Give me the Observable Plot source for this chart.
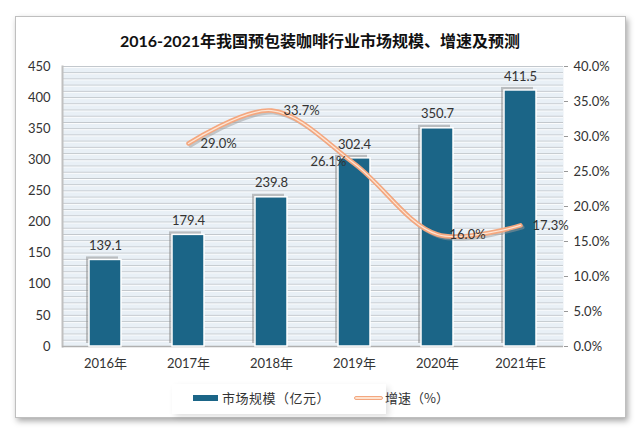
<!DOCTYPE html>
<html><head><meta charset="utf-8">
<script src="https://cdn.jsdelivr.net/npm/d3@7"></script>
<script src="https://cdn.jsdelivr.net/npm/@observablehq/plot@0.6"></script>
<style>
body{margin:0;background:#fff;}
#wrap{position:relative;width:640px;height:433px;overflow:hidden;font-family:Lato,"Noto Sans CJK SC",sans-serif;}
#card{position:absolute;left:15px;top:16px;width:609px;height:400px;background:#fff;border:1px solid #bfbfbf;box-shadow:2px 3px 6px rgba(0,0,0,0.35);}
#title{position:absolute;left:0;top:28px;width:640px;text-align:center;font-size:16px;font-weight:bold;color:#111;font-family:Lato,"Noto Sans CJK SC",sans-serif;}
#chart{position:absolute;left:0;top:0;}
#legend{position:absolute;left:172px;top:384px;width:214px;height:30px;background:#fff;box-shadow:3px 3px 6px rgba(0,0,0,0.12);}
.lg{position:absolute;font-size:13px;color:#333;font-family:"Noto Sans CJK SC",sans-serif;line-height:16px;white-space:nowrap;}
.sw1{position:absolute;left:193px;top:395px;width:25px;height:6px;background:#1b6587;}
.t1{left:222px;top:390px;letter-spacing:0.5px;}
.sw2{position:absolute;left:354px;top:396px;width:27px;height:2px;background:#fde3d0;border:1.5px solid #f4a77f;border-radius:3px;}
.t2{left:385px;top:390px;}
</style></head>
<body>
<div id="wrap">
  <div id="card"></div>
  <div id="chart"></div>
  <div id="title">2016-2021年我国预包装咖啡行业市场规模、增速及预测</div>
  <div id="legend"></div>
  <div class="sw1"></div><div class="lg t1">市场规模（亿元）</div><div class="sw2"></div><div class="lg t2">增速（%）</div>
</div>
<script>
const years = ["2016年","2017年","2018年","2019年","2020年","2021年E"];
const marketSize = [139.1,179.4,239.8,302.4,350.7,411.5];
const growthYears = ["2017年","2018年","2019年","2020年","2021年E"];
const growthRate = [29.0,33.7,26.1,16.0,17.3];
const leftTicks = [0,50,100,150,200,250,300,350,400,450];
const rightTicks = [0,5,10,15,20,25,30,35,40];

const K = 450/40; // percent -> left scale units
const bars = years.map((y,i)=>({year:y, v:marketSize[i]}));
const growth = growthYears.map((y,i)=>({year:y, g:growthRate[i], v:growthRate[i]*K}));
const font = 'Lato,"Noto Sans CJK SC",sans-serif';

const chart = Plot.plot({
  width:640, height:433,
  marginLeft:62, marginRight:77, marginTop:66, marginBottom:87,
  style:{fontFamily:font, fontSize:"12px", color:"#333", background:"transparent"},
  x:{domain:years, paddingInner:0.62, paddingOuter:0.31, label:null},
  y:{domain:[0,450], label:null},
  marks:[
    Plot.frame({fill:"#e9f0f6", stroke:null}),
    Plot.ruleY(d3.range(0,451,10), {stroke:"#c3c8cd", strokeWidth:1}),
    Plot.ruleY(d3.range(0,451,10), {stroke:"#ffffff", strokeWidth:0.8, dy:1}),
    Plot.frame({anchor:"left", stroke:"#c0c0c0", strokeWidth:2}),
    Plot.axisY({anchor:"left", ticks:leftTicks, tickSize:0, tickPadding:12, fontSize:13, fill:"#333"}),
    Plot.axisY({anchor:"right", ticks:rightTicks.map(t=>t*K), tickSize:4, tickPadding:6, tickFormat:d=>(d/K).toFixed(1)+"%", fontSize:13, fill:"#333", stroke:"#999"}),
    Plot.axisX({tickSize:0, tickPadding:12, fontSize:13, fill:"#333"}),
    Plot.ruleY([0], {stroke:"#b0b0b0", strokeWidth:1.5}),
    Plot.barY(bars, {x:"year", y:"v", fill:"#8a8a8a", fillOpacity:0.5, dx:-3, dy:-3}),
    Plot.barY(bars, {x:"year", y:"v", fill:"#1b6587", stroke:"#ffffff", strokeWidth:1.5}),
    Plot.text(bars, {x:"year", y:"v", text:d=>d.v.toFixed(1), dy:-14, fontSize:13, fill:"#333"}),
    Plot.line(growth, {x:"year", y:"v", curve:"catmull-rom", stroke:"#9a9a9a", strokeOpacity:0.5, strokeWidth:4, dx:2, dy:2}),
    Plot.line(growth, {x:"year", y:"v", curve:"catmull-rom", stroke:"#f4a77f", strokeWidth:4.5}),
    Plot.line(growth, {x:"year", y:"v", curve:"catmull-rom", stroke:"#fde5d4", strokeWidth:1.3}),
    Plot.text(growth.filter(d=>d.year!=="2019年"), {x:"year", y:"v", text:d=>d.g.toFixed(1)+"%", textAnchor:"start", dx:12, fontSize:13, fill:"#333"}),
    Plot.text(growth.filter(d=>d.year==="2019年"), {x:"year", y:"v", text:d=>d.g.toFixed(1)+"%", textAnchor:"end", dx:-8, dy:-2, fontSize:13, fill:"#333"})
  ]
});
document.getElementById("chart").appendChild(chart);
</script>
</body></html>
